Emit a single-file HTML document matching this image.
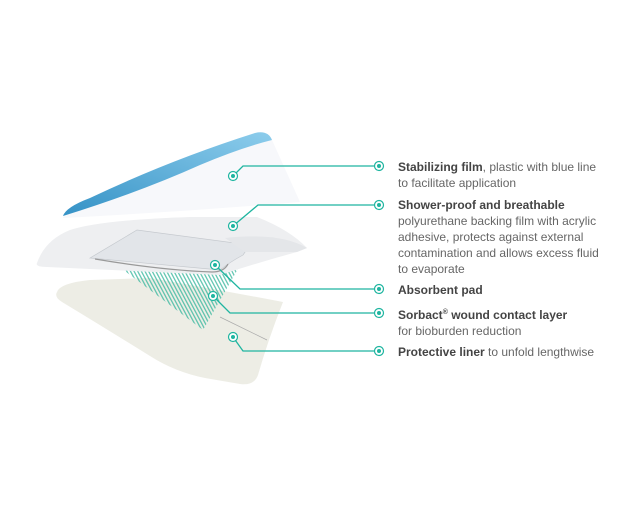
<!DOCTYPE html>
<html><head><style>
html,body{margin:0;padding:0;background:#fff;width:627px;height:510px;overflow:hidden}
.t{position:absolute;left:398px;font-family:"Liberation Sans",sans-serif;font-size:12px;color:#666;line-height:16px;white-space:nowrap}
.t b{color:#444}
</style></head><body>
<svg width="627" height="510" style="position:absolute;left:0;top:0">
<defs>
<pattern id="h" width="3.2" height="4" patternUnits="userSpaceOnUse" patternTransform="rotate(-28)">
<rect width="1.3" height="4" fill="#3cb89f"/></pattern>
<linearGradient id="bl" x1="0" y1="1" x2="1" y2="0"><stop offset="0" stop-color="#3592c6"/><stop offset="1" stop-color="#8dcdec"/></linearGradient>
</defs>
<!-- bottom liner -->
<path d="M57,292 Q60,283 90,280 L150,278 Q220,290 283,302 Q268,340 258,375 Q254,386 240,384 L205,378 Q175,372 150,356 Q100,325 62,302 Q54,297 57,292Z" fill="#ededE5"/>
<line x1="220" y1="317" x2="267" y2="340" stroke="#aaa" stroke-width="0.7"/>
<!-- hatch -->
<path d="M113,262 L247,253 L203,330 Z" fill="url(#h)" opacity="0.8"/>
<!-- middle layer -->
<path d="M37,263 Q45,240 70,230 Q100,220 190,217 L257,217 Q290,230 307,248 L297,252 Q260,262 220,275 L47,267 Q35,267 37,263Z" fill="#eeeff1"/>
<path d="M90,258 L137,230 L250,245 L243,255 Q230,262 220,270 Z" fill="#e2e5e9" stroke="#c5c9ce" stroke-width="0.7"/>
<path d="M95,259 Q160,270 212,272 Q224,272 228,264" fill="none" stroke="#999" stroke-width="1.3"/>
<path d="M225,238 Q280,232 307,248 L297,252 L245,252 Z" fill="#e4e6e9"/>
<!-- top film -->
<path d="M63,217 Q140,170 255,134 Q268,131 272,140 L300,202 Q180,212 63,218 Z" fill="#f7f8fb"/>
<path d="M63,216 Q66,207 90,198 Q170,160 255,133 Q268,130 272,140 Q240,148 200,165 Q140,192 63,216 Z" fill="url(#bl)"/>
<!-- connectors -->
<g stroke="#1fb5a0" stroke-width="1.3" fill="none">
<polyline points="233,176 243,166 378,166"/>
<polyline points="233,226 258,205 378,205"/>
<polyline points="215,265 240,289 378,289"/>
<polyline points="213,296 230,313 378,313"/>
<polyline points="233,337 243,351 378,351"/>
</g>
<g fill="#fff" stroke="#1fb5a0" stroke-width="1.2">
<circle cx="233" cy="176" r="4.5"/><circle cx="233" cy="226" r="4.5"/><circle cx="215" cy="265" r="4.5"/><circle cx="213" cy="296" r="4.5"/><circle cx="233" cy="337" r="4.5"/>
<circle cx="379" cy="166" r="4.5"/><circle cx="379" cy="205" r="4.5"/><circle cx="379" cy="289" r="4.5"/><circle cx="379" cy="313" r="4.5"/><circle cx="379" cy="351" r="4.5"/>
</g>
<g fill="#1fb5a0">
<circle cx="233" cy="176" r="2"/><circle cx="233" cy="226" r="2"/><circle cx="215" cy="265" r="2"/><circle cx="213" cy="296" r="2"/><circle cx="233" cy="337" r="2"/>
<circle cx="379" cy="166" r="2"/><circle cx="379" cy="205" r="2"/><circle cx="379" cy="289" r="2"/><circle cx="379" cy="313" r="2"/><circle cx="379" cy="351" r="2"/>
</g>
</svg>
<div class="t" style="top:159px"><b>Stabilizing film</b>, plastic with blue line<br>to facilitate application</div>
<div class="t" style="top:197px"><b>Shower-proof and breathable</b><br>polyurethane backing film with acrylic<br>adhesive, protects against external<br>contamination and allows excess fluid<br>to evaporate</div>
<div class="t" style="top:282px"><b>Absorbent pad</b></div>
<div class="t" style="top:305px"><b>Sorbact<sup style="font-size:7px">®</sup> wound contact layer</b><br>for bioburden reduction</div>
<div class="t" style="top:344px"><b>Protective liner</b> to unfold lengthwise</div>
</body></html>
